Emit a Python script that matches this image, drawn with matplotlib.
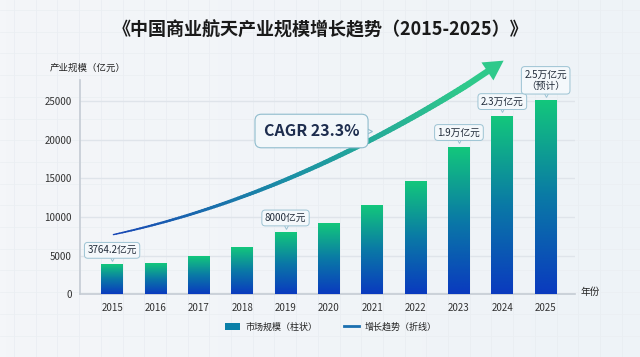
import numpy as np
import matplotlib
matplotlib.use("Agg")
import matplotlib.pyplot as plt
from matplotlib.collections import LineCollection
from matplotlib.colors import LinearSegmentedColormap, to_rgb
from matplotlib.patches import FancyArrowPatch, Patch
from matplotlib.lines import Line2D
from matplotlib.transforms import offset_copy
from matplotlib.bezier import BezierSegment

plt.rcParams['font.family'] = ['Noto Sans CJK SC', 'DejaVu Sans']

# 数据
years = [2015, 2016, 2017, 2018, 2019, 2020, 2021, 2022, 2023, 2024, 2025]
market = [3764.2, 3950, 4800, 6050, 7950, 9100, 11500, 14500, 19000, 23000, 25000]

# 标注
label_years = [2015, 2019, 2023, 2024, 2025]
label_texts = ['3764.2亿元', '8000亿元', '1.9万亿元', '2.3万亿元', '2.5万亿元\n（预计）']

# 趋势箭头：贝塞尔控制点和箭头尖
trend_ctrl = [(2015.03, 7700), (2017.74, 11000), (2020.46, 17500), (2023.2, 27100)]
trend_tip = (2024.03, 30200)

fig = plt.figure(figsize=(6.4, 3.57), dpi=100)
fig.patch.set_facecolor('#f3f6f9')

# 背景浅色网格
bg = fig.add_axes([0, 0, 1, 1], zorder=-5)
bg.set_xlim(0, 640)
bg.set_ylim(357, 0)
grad = np.linspace(0, 1, 100).reshape(1, -1)
bg.imshow(grad, extent=[0, 640, 357, 0], aspect='auto',
          cmap=LinearSegmentedColormap.from_list('bgc', ['#f4f6f9', '#eef3f7']))
for gx in np.arange(14, 640, 21.7):
    bg.axvline(gx, color='#e8ecf1', lw=0.5)
for gy in np.arange(10, 357, 21.7):
    bg.axhline(gy, color='#eaeef2', lw=0.5)
bg.axis('off')

ax = fig.add_axes([0.125, 0.176, 0.773, 0.6])
ax.set_facecolor('none')

bar_cmap = LinearSegmentedColormap.from_list('bar', ['#0a3abf', '#0a79a6', '#13c77c'])
bar_grad = np.linspace(0, 1, 256).reshape(-1, 1)
w = 0.5
for x, v in zip(years, market):
    ax.imshow(bar_grad, extent=[x - w / 2, x + w / 2, 0, v], origin='lower',
              aspect='auto', cmap=bar_cmap, zorder=3)

ax.set_xlim(2014.26, 2025.67)
ax.set_ylim(0, 27700)
ax.set_xticks(years)
ax.set_xticklabels([str(y) for y in years])
ax.set_yticks(range(0, 25001, 5000))
ax.tick_params(length=0, labelsize=7, colors='#333333', pad=6)
ax.yaxis.grid(True, color='#dfe4ea', lw=1)
ax.set_axisbelow(True)
for s in ['top', 'right']:
    ax.spines[s].set_visible(False)
for s in ['left', 'bottom']:
    ax.spines[s].set_color('#c5ccd4')
    ax.spines[s].set_linewidth(1.2)

# 趋势曲线：渐变色 + 渐粗
curve = np.asarray(BezierSegment(np.array(trend_ctrl))(np.linspace(0, 1, 120)))
pts = curve.reshape(-1, 1, 2)
segs = np.concatenate([pts[:-1], pts[1:]], axis=1)
frac = np.linspace(0, 1, len(segs))
c0, c1, c2 = np.array(to_rgb('#1746b5')), np.array(to_rgb('#1b8fa5')), np.array(to_rgb('#2fc98b'))
cols = [c0 + (c1 - c0) * f * 2 if f < 0.5 else c1 + (c2 - c1) * (f - 0.5) * 2 for f in frac]
lc = LineCollection(segs, colors=cols, linewidths=1.0 + 3.5 * frac ** 0.8,
                    capstyle='round', joinstyle='round', zorder=4, clip_on=False)
ax.add_collection(lc)
arr = FancyArrowPatch(trend_ctrl[-1], trend_tip,
                      arrowstyle='simple,head_length=1.4,head_width=1.55,tail_width=0.45',
                      mutation_scale=10, fc='#2fc98b', ec='none', lw=0,
                      zorder=4, clip_on=False, shrinkA=0, shrinkB=0)
ax.add_patch(arr)

# CAGR 标签
ax.text(2019.6, 21100, 'CAGR 23.3%', fontsize=11.5, fontweight='bold',
        color='#1d2d4e', ha='center', va='center', zorder=6,
        bbox=dict(boxstyle='round,pad=0.55,rounding_size=0.4', fc='#f2f7fa',
                  ec='#8fbccd', lw=0.8))
ax.plot([2020.9], [21100], marker='>', ms=6, mfc='#f2f7fa', mec='#8fbccd',
        mew=0.8, zorder=5, clip_on=False)

# 数值标注
for yr, txt in zip(label_years, label_texts):
    v = market[years.index(yr)]
    tr = offset_copy(ax.transData, fig=fig, x=0, y=5, units='points')
    ax.plot([yr], [v], marker='v', ms=5, mfc='#f4f8fb', mec='#9cc3d3', mew=0.7,
            transform=tr, zorder=5, clip_on=False)
    ax.annotate(txt, (yr, v), xytext=(0, 7), textcoords='offset points',
                ha='center', va='bottom', fontsize=7, color='#222c3a',
                linespacing=1.2, zorder=6, annotation_clip=False,
                bbox=dict(boxstyle='round,pad=0.3,rounding_size=0.35', fc='#f4f8fb',
                          ec='#9cc3d3', lw=0.7))

fig.text(0.5, 0.916, '《中国商业航天产业规模增长趋势（2015-2025）》', fontsize=13,
         fontweight='bold', color='#1a1a1a', ha='center', va='center')
fig.text(0.078, 0.81, '产业规模（亿元）', fontsize=6.8, color='#222222',
         ha='left', va='center')
fig.text(0.922, 0.182, '年份', fontsize=7, color='#222222', ha='center', va='center')

handles = [Patch(facecolor='#0a7fa8', edgecolor='none'),
           Line2D([0], [0], color='#1a6fb0', lw=2)]
fig.legend(handles, ['市场规模（柱状）', '增长趋势（折线）'], loc='center',
           bbox_to_anchor=(0.517, 0.084), ncol=2, frameon=False, fontsize=6.5,
           handlelength=1.6, handleheight=0.8, columnspacing=3, handletextpad=0.6,
           labelcolor='#222222')

fig.savefig('out.png', dpi=100, facecolor=fig.get_facecolor())
